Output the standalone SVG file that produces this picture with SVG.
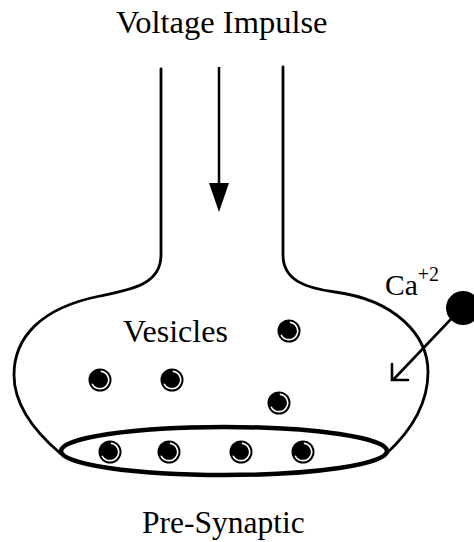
<svg xmlns="http://www.w3.org/2000/svg" width="474" height="542" viewBox="0 0 474 542">
  <style>
    text { font-family: 'Liberation Serif', 'Times New Roman', Times, serif; fill: #000; }
    .wall { fill: none; stroke: #000; stroke-width: 2.8; stroke-linecap: round; stroke-linejoin: round; }
    .shine { fill: none; stroke: #fff; stroke-width: 1.6; stroke-linecap: round; }
  </style>
  <defs>
    <!-- a vesicle: dark sphere with a light rim on its lower right -->
    <g id="vesicle">
      <circle r="11.5" fill="#000"/>
      <path class="shine" d="M 1.5,-8.6 A 8.7 8.7 0 1 1 -7.6,4.3"/>
    </g>
  </defs>

  <rect width="474" height="542" fill="#fff"/>

  <!-- terminal outline -->
  <g id="terminal">
    <path class="wall" d="M161,69 L161,255 C161,285 130,290 100,296 C40,308 14,338 14,375 C14,405 35,432 61,454"/>
    <path class="wall" d="M283,67 L283,255 C283,280 305,288 335,292 C395,300 428,335 428,372 C428,405 410,432 386,454"/>
  </g>

  <!-- active zone membrane -->
  <g id="active-zone">
    <ellipse cx="224" cy="451" rx="163" ry="24" fill="none" stroke="#000" stroke-width="4.5"/>
  </g>

  <!-- vesicles -->
  <g id="vesicles">
    <use href="#vesicle" x="289" y="331"/>
    <use href="#vesicle" x="100" y="380"/>
    <use href="#vesicle" x="172" y="380"/>
    <use href="#vesicle" x="279" y="403"/>
    <use href="#vesicle" x="110" y="452"/>
    <use href="#vesicle" x="169" y="452"/>
    <use href="#vesicle" x="241" y="452"/>
    <use href="#vesicle" x="303" y="452"/>
  </g>

  <!-- calcium ion -->
  <g id="calcium">
    <circle cx="463" cy="308" r="17" fill="#000"/>
  </g>

  <g id="connectors">
    <line x1="219" y1="67" x2="219" y2="186" stroke="#000" stroke-width="2.5"/>
    <polygon points="209,183 229,183 219,212" fill="#000"/>
    <line x1="452" y1="318" x2="393" y2="380" stroke="#000" stroke-width="2.6"/>
    <polyline points="392,364 392,380 408,380" fill="none" stroke="#000" stroke-width="2.6" stroke-linecap="round" stroke-linejoin="miter"/>
  </g>

  <g id="labels">
    <text x="116" y="33" font-size="32.5">Voltage Impulse</text>
    <text x="123" y="342" font-size="32">Vesicles</text>
    <text x="385" y="295" font-size="29.5">Ca<tspan font-size="20" dy="-14">+2</tspan></text>
    <text x="142" y="533" font-size="31.5">Pre-Synaptic</text>
  </g>
</svg>
